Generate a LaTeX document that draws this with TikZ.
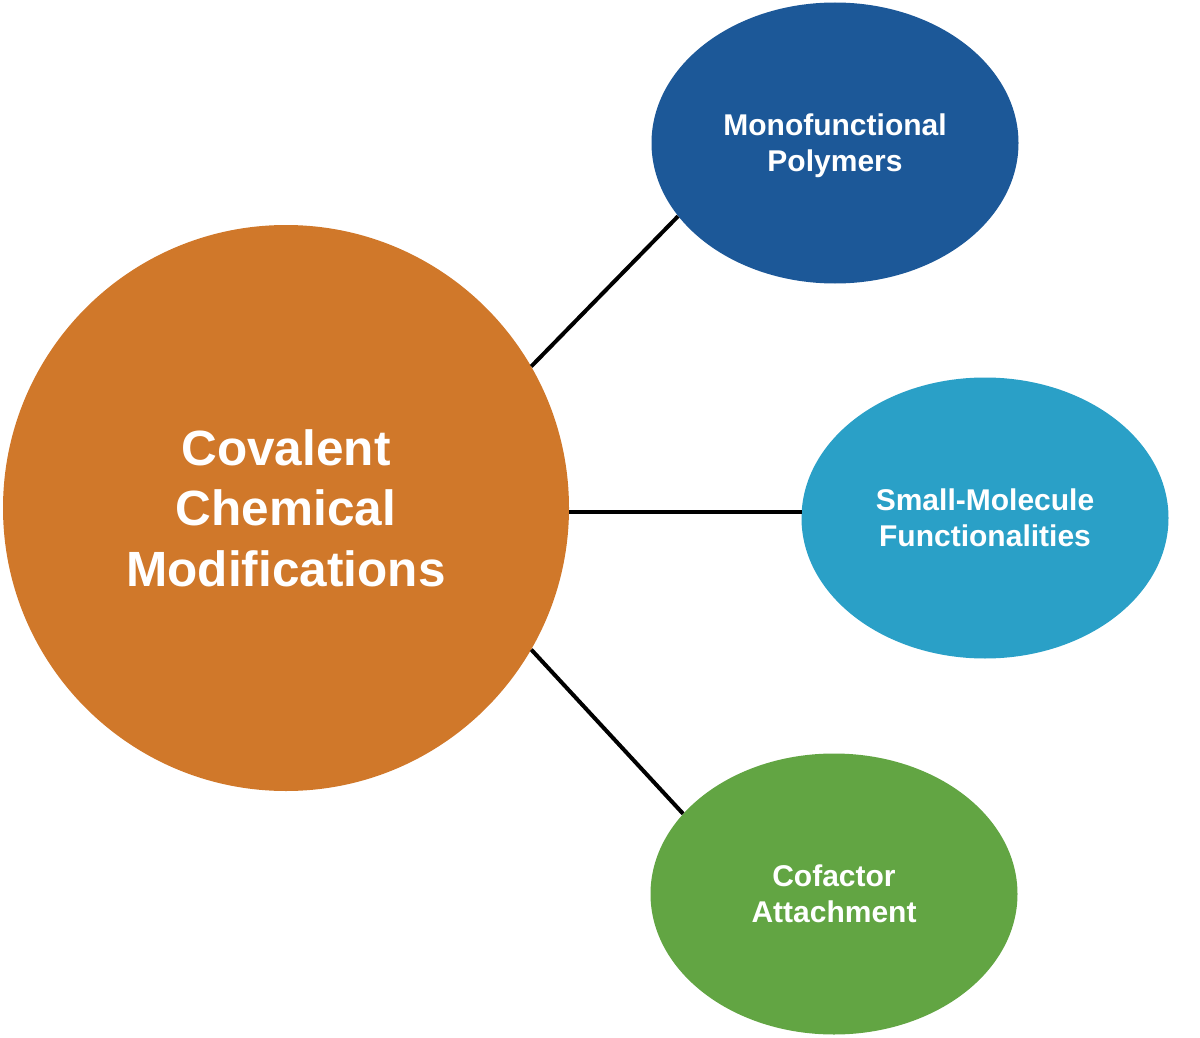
\documentclass[tikz,border=0pt]{standalone}
\usepackage{fontspec}
\setmainfont{Liberation Sans}
\usetikzlibrary{shapes.geometric}
\definecolor{corange}{HTML}{D0782A}
\definecolor{cdblue}{HTML}{1C5898}
\definecolor{clblue}{HTML}{2AA0C7}
\definecolor{cgreen}{HTML}{62A543}
\tikzset{
  bigcirc/.style={circle, fill=corange, minimum size=566pt, inner sep=0pt, text=white, align=center,
    font=\bfseries\fontsize{49.5}{60.5}\selectfont},
  oval/.style={ellipse, minimum width=367pt, minimum height=281pt, inner sep=0pt, text=white, align=center,
    font=\bfseries\fontsize{30}{36}\selectfont},
  link/.style={line width=4pt, black}
}
\begin{document}
\begin{tikzpicture}[x=1pt,y=-1pt]
\useasboundingbox (0,0) rectangle (1200,1038);
\node[bigcirc] (c) at (286,508) {Covalent\\Chemical\\Modifications};
\node[oval, fill=cdblue] (e1) at (835,143) {\rule{0pt}{28pt}Monofunctional\\Polymers};
\node[oval, fill=clblue] (e2) at (985,518) {Small-Molecule\\Functionalities};
\node[oval, fill=cgreen] (e3) at (834,894) {Cofactor\\Attachment};
\draw[link] (c.30.5) -- (e1.205);
\draw[link] (c.east |- e2.178) -- (e2.178);
\draw[link] (c.-30.5) -- (e3.152);
\end{tikzpicture}
\end{document}
